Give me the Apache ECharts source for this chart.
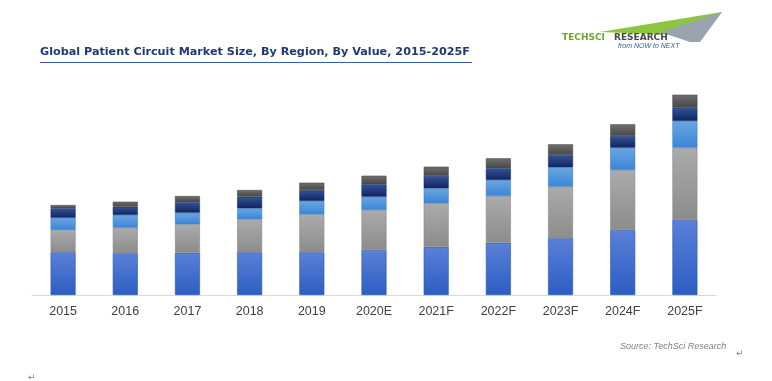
<!DOCTYPE html>
<html><head><meta charset="utf-8">
<script src="https://cdn.jsdelivr.net/npm/echarts@6/dist/echarts.min.js"></script>
<style>html,body{margin:0;padding:0;background:#fff}#c{width:772px;height:381px}</style>
</head><body><div id="c"></div>
<script>
const categories = ['2015','2016','2017','2018','2019','2020E','2021F','2022F','2023F','2024F','2025F'];
const seriesNames = ['Region A','Region B','Region C','Region D','Region E'];
const regionA = [42.7, 41.7, 42.3, 42.7, 42.7, 45.0, 48.3, 52.3, 56.7, 65.0, 75.0];
const regionB = [22.3, 25.6, 28.4, 33.0, 38.0, 40.0, 43.4, 46.7, 51.6, 60.0, 72.3];
const regionC = [12.3, 12.7, 11.6, 11.0, 13.3, 13.3, 15.0, 16.0, 19.4, 22.3, 26.7];
const regionD = [9.4, 8.3, 10.4, 11.6, 11.0, 12.4, 12.3, 11.7, 12.3, 11.7, 13.7];
const regionE = [3.3, 5.0, 6.3, 6.7, 7.3, 8.6, 9.3, 10.0, 10.7, 11.7, 14.0];

function grad(top, bottom){
  return new echarts.graphic.LinearGradient(0,0,0,1,[{offset:0,color:top},{offset:1,color:bottom}]);
}
const styles = [
  {c: grad('#5b80d8','#2b5ec2'), b:'#2a56b8'},
  {c: grad('#ababab','#8c8c8c'), b:'#8a8a8a'},
  {c: grad('#6aa6e2','#3a86d6'), b:'#3a80cc'},
  {c: grad('#34549a','#0f245e'), b:'#1a2e66'},
  {c: grad('#707070','#474747'), b:'#4a4a4a'}
];
const data = [regionA, regionB, regionC, regionD, regionE];

const chart = echarts.init(document.getElementById('c'));
chart.setOption({
  animation:false,
  backgroundColor:'#fff',
  grid:{left:32, right:56, top:95, bottom:86},
  xAxis:{type:'category', data:categories,
    axisLine:{lineStyle:{color:'#d9d9d9'}}, axisTick:{show:false},
    axisLabel:{color:'#404040', fontFamily:'Liberation Sans', fontSize:12.5, margin:10}},
  yAxis:{type:'value', min:0, max:200, show:false, splitLine:{show:false}},
  series: data.map((d,i)=>({
    name:seriesNames[i], type:'bar', stack:'t', data:d, barWidth:25,
    itemStyle:{color:styles[i].c, borderColor:styles[i].b, borderWidth:0.6}
  })),
  graphic:[
    {type:'text', left:40, top:47, style:{text:'Global Patient Circuit Market Size, By Region, By Value, 2015-2025F',
      font:'bold 11.2px "DejaVu Sans"', fill:'#1f3a70'}},
    {type:'rect', shape:{x:40,y:62,width:432,height:1}, style:{fill:'#3b5ba8'}},
    {type:'polygon', shape:{points:[[600,32],[722,12],[700,36]]}, style:{fill:'#8cc63f'}},
    {type:'polygon', shape:{points:[[660,32],[722,12],[700,42],[690,42]]}, style:{fill:'#9aa4ad'}},
    {type:'text', left:562, top:33, style:{text:'TECHSCI', font:'bold 9px "DejaVu Sans"', fill:'#6aaa2a'}},
    {type:'text', left:614, top:33, style:{text:'RESEARCH', font:'bold 9px "DejaVu Sans"', fill:'#4a4a4a'}},
    {type:'text', left:618, top:43, style:{text:'from NOW to NEXT', font:'italic 7px "Liberation Sans"', fill:'#2f5aa0'}},
    {type:'text', left:620, top:342, style:{text:'Source: TechSci Research', font:'italic 9px "Liberation Sans"', fill:'#808080'}},
    {type:'text', left:736, top:349, style:{text:'\u21b5', font:'9px "DejaVu Sans"', fill:'#808080'}},
    {type:'text', left:28, top:373, style:{text:'\u21b5', font:'9px "DejaVu Sans"', fill:'#808080'}}
  ]
});
</script></body></html>
